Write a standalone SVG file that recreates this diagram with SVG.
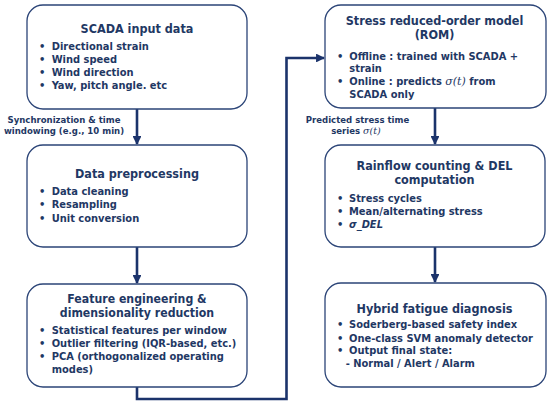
<svg xmlns="http://www.w3.org/2000/svg" width="550" height="406" viewBox="0 0 550 406">
<defs>
<style>
.box{fill:#ffffff;stroke:#2b4477;stroke-width:1.3}
text{font-family:"DejaVu Sans Condensed","DejaVu Sans",sans-serif;font-weight:bold;fill:#1f3864}
.t{font-size:12.5px;text-anchor:middle}
.t2{font-size:12.2px}
.i{font-size:11px}
.l{font-size:9.5px;text-anchor:middle}
.m{font-family:"DejaVu Serif",serif;font-style:italic;font-weight:normal}
.c{fill:none;stroke:#1b336b;stroke-width:2.6}
</style>
<marker id="ah" viewBox="0 0 10 10" refX="9" refY="5" markerWidth="3.4" markerHeight="3.4" orient="auto" markerUnits="strokeWidth">
<path d="M0,0 L10,5 L0,10 z" fill="#1b336b"/>
</marker>
</defs>
<rect width="550" height="406" fill="#ffffff"/>
<g id="connectors">
<path class="c" d="M137,109 V144" marker-end="url(#ah)"/>
<path class="c" d="M137,247 V283" marker-end="url(#ah)"/>
<path class="c" d="M137,387 V399 H286.5 V58 H324" marker-end="url(#ah)"/>
<path class="c" d="M435,108 V144" marker-end="url(#ah)"/>
<path class="c" d="M435,247 V282" marker-end="url(#ah)"/>
<text class="l" x="64" y="123.3">Synchronization &amp; time</text>
<text class="l" x="64" y="134.3">windowing (e.g., 10 min)</text>
<text class="l" x="357.5" y="123.3">Predicted stress time</text>
<text class="l" x="356" y="134.3">series <tspan class="m">σ(t)</tspan></text>
</g>
<g id="scada">
<rect class="box" x="27" y="5" width="220" height="104" rx="16"/>
<text class="t" x="137" y="33.3">SCADA input data</text>
<text class="i" x="39" y="50">•</text><text class="i" x="51.7" y="50">Directional strain</text>
<text class="i" x="39" y="63">•</text><text class="i" x="51.7" y="63">Wind speed</text>
<text class="i" x="39" y="76">•</text><text class="i" x="51.7" y="76">Wind direction</text>
<text class="i" x="39" y="89">•</text><text class="i" x="51.7" y="89">Yaw, pitch angle. etc</text>
</g>
<g id="preprocessing">
<rect class="box" x="27" y="145" width="220" height="102" rx="16"/>
<text class="t" x="137" y="177.7">Data preprocessing</text>
<text class="i" x="39" y="195">•</text><text class="i" x="51.7" y="195">Data cleaning</text>
<text class="i" x="39" y="208.3">•</text><text class="i" x="51.7" y="208.3">Resampling</text>
<text class="i" x="39" y="221.7">•</text><text class="i" x="51.7" y="221.7">Unit conversion</text>
</g>
<g id="feature">
<rect class="box" x="27" y="284" width="220" height="103" rx="16"/>
<text class="t t2" x="137" y="302.6">Feature engineering &amp;</text>
<text class="t t2" x="137" y="316.8">dimensionality reduction</text>
<text class="i" x="39" y="334">•</text><text class="i" x="51.7" y="334">Statistical features per window</text>
<text class="i" x="39" y="347.3">•</text><text class="i" x="51.7" y="347.3">Outlier filtering (IQR-based, etc.)</text>
<text class="i" x="39" y="360">•</text><text class="i" x="51.7" y="360">PCA (orthogonalized operating</text>
<text class="i" x="51.7" y="373.3">modes)</text>
</g>
<g id="rom">
<rect class="box" x="325" y="5" width="221" height="103" rx="16"/>
<text class="t" x="434.5" y="25">Stress reduced-order model</text>
<text class="t" x="434.5" y="39.3">(ROM)</text>
<text class="i" x="337" y="59.5">•</text><text class="i" x="349.3" y="59.5">Offline : trained with SCADA +</text>
<text class="i" x="349.3" y="72">strain</text>
<text class="i" x="337" y="85">•</text><text class="i" x="349.3" y="85">Online : predicts <tspan class="m">σ(t)</tspan> from</text>
<text class="i" x="349.3" y="97.5">SCADA only</text>
</g>
<g id="rainflow">
<rect class="box" x="325" y="145" width="220" height="102" rx="16"/>
<text class="t" x="434.5" y="170">Rainflow counting &amp; DEL</text>
<text class="t" x="434.5" y="184">computation</text>
<text class="i" x="337" y="201.7">•</text><text class="i" x="349" y="201.7">Stress cycles</text>
<text class="i" x="337" y="215">•</text><text class="i" x="349" y="215">Mean/alternating stress</text>
<text class="i" x="337" y="228.3">•</text><text class="i" x="349" y="228.3" font-style="italic">σ_DEL</text>
</g>
<g id="hybrid">
<rect class="box" x="325" y="283" width="221" height="104" rx="16"/>
<text class="t" x="434.5" y="312.7">Hybrid fatigue diagnosis</text>
<text class="i" x="337" y="328.3">•</text><text class="i" x="349" y="328.3">Soderberg-based safety index</text>
<text class="i" x="337" y="341.7">•</text><text class="i" x="349" y="341.7">One-class SVM anomaly detector</text>
<text class="i" x="337" y="354.3">•</text><text class="i" x="349" y="354.3">Output final state:</text>
<text class="i" x="345.7" y="367.3">- Normal / Alert / Alarm</text>
</g>
</svg>
